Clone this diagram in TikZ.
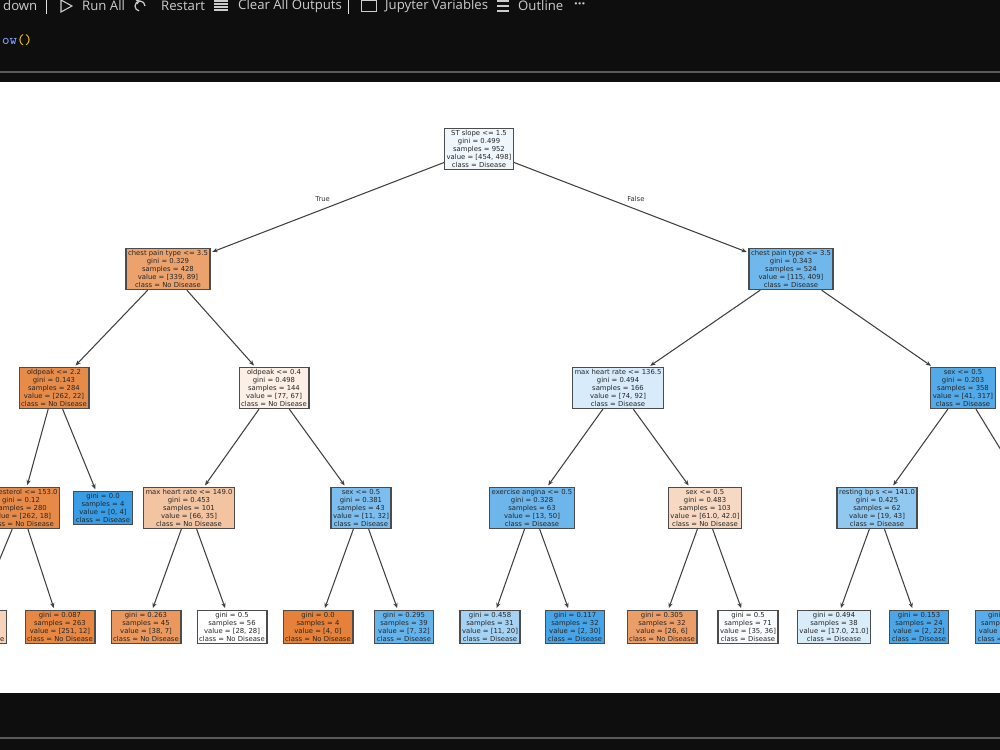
\documentclass[tikz,border=0pt]{standalone}
\usepackage{fontspec}
\setmainfont{DejaVu Sans}
\newfontfamily\uifont{Open Sans}
\usetikzlibrary{arrows.meta}
\definecolor{orng}{RGB}{229,129,57}
\definecolor{blu}{RGB}{57,157,229}
\definecolor{bgd}{RGB}{14,14,14}
\definecolor{uitxt}{RGB}{204,204,204}
\begin{document}
\begin{tikzpicture}[x=0.02cm,y=-0.02cm,
  tn/.style={draw=black!70,line width=0.7pt,align=center,inner sep=1.2pt,font=\fontsize{3.9}{4.5}\selectfont,text=black!85},
  ed/.style={-{Stealth[length=3pt,width=2.4pt]},line width=0.6pt,draw=black!75,shorten >=1pt},
  ui/.style={text=uitxt,font=\uifont\fontsize{7.5}{9}\selectfont,anchor=west}]
\useasboundingbox (0,0) rectangle (1000,750);
\fill[bgd] (0,0) rectangle (1000,750);
\draw[black!65,line width=0.8pt] (0,72) -- (1000,72);
\draw[black!65,line width=0.6pt] (0,738) -- (1000,738);
\fill[white] (0,82) rectangle (1000,693);
% toolbar
\node[ui] (t1) at (-3,6) {down};
\draw[uitxt!60] (46,-2) -- (46,14);
\draw[uitxt,line width=0.6pt] (61,0) -- (72,6) -- (61,12) -- cycle;
\node[ui] (t2) at (76,6) {Run All};
\draw[uitxt,line width=0.7pt] (145,6) arc (0:-260:5);
\draw[uitxt,line width=0.7pt] (136,0) -- (139,1) -- (137,4);
\node[ui] (t3) at (155,6) {Restart};
\foreach \yy in {1,4,7,10} \draw[uitxt,line width=0.6pt] (214,\yy) -- (228,\yy);
\node[ui] (t4) at (232,6) {Clear All Outputs};
\draw[uitxt!60] (348,-2) -- (348,14);
\draw[uitxt,line width=0.5pt] (361,0) rectangle (376,11);
\node[ui] (t5) at (379,6) {Jupyter Variables};
\draw[uitxt,line width=0.6pt] (497,1) -- (509,1) (497,6) -- (509,6) (497,11) -- (509,11);
\node[ui] (t6) at (512,6) {Outline};
\node[ui] (t7) at (568,6) {\textbf{···}};
\node[ui,font=\ttfamily\fontsize{8}{9}\selectfont] (code) at (-4,40) {\textcolor[RGB]{130,160,255}{ow}\textcolor[RGB]{255,215,0}{()}};
\begin{scope}
\clip (0,82) rectangle (1000,693);
\node[tn,fill=blu!8] (r) at (479,149) {ST slope <= 1.5\\gini = 0.499\\samples = 952\\value = [454, 498]\\class = Disease};
\node[tn,fill=orng!74] (a) at (168,269) {chest pain type <= 3.5\\gini = 0.329\\samples = 428\\value = [339, 89]\\class = No Disease};
\node[tn,fill=blu!72] (b) at (791,269) {chest pain type <= 3.5\\gini = 0.343\\samples = 524\\value = [115, 409]\\class = Disease};
\node[tn,fill=orng!92] (aa) at (54,388) {oldpeak <= 2.2\\gini = 0.143\\samples = 284\\value = [262, 22]\\class = No Disease};
\node[tn,fill=orng!13] (ab) at (274,388) {oldpeak <= 0.4\\gini = 0.498\\samples = 144\\value = [77, 67]\\class = No Disease};
\node[tn,fill=blu!20] (ba) at (618,388) {max heart rate <= 136.5\\gini = 0.494\\samples = 166\\value = [74, 92]\\class = Disease};
\node[tn,fill=blu!87] (bb) at (963,388) {sex <= 0.5\\gini = 0.203\\samples = 358\\value = [41, 317]\\class = Disease};
\node[tn,fill=orng!93] (aaa) at (21,508) {cholesterol <= 153.0\\gini = 0.12\\samples = 280\\value = [262, 18]\\class = No Disease};
\node[tn,fill=blu] (aab) at (103,508) {gini = 0.0\\samples = 4\\value = [0, 4]\\class = Disease};
\node[tn,fill=orng!47] (aba) at (189,508) {max heart rate <= 149.0\\gini = 0.453\\samples = 101\\value = [66, 35]\\class = No Disease};
\node[tn,fill=blu!66] (abb) at (361,508) {sex <= 0.5\\gini = 0.381\\samples = 43\\value = [11, 32]\\class = Disease};
\node[tn,fill=blu!74] (baa) at (532,508) {exercise angina <= 0.5\\gini = 0.328\\samples = 63\\value = [13, 50]\\class = Disease};
\node[tn,fill=orng!31] (bab) at (705,508) {sex <= 0.5\\gini = 0.483\\samples = 103\\value = [61.0, 42.0]\\class = No Disease};
\node[tn,fill=blu!56] (bba) at (877,508) {resting bp s <= 141.0\\gini = 0.425\\samples = 62\\value = [19, 43]\\class = Disease};
\coordinate (bbb) at (1012,468);
\node[tn,fill=orng!35,anchor=east] (l0) at (7,627) {gini = 0.4\\samples = 17\\value = [11, 6]\\class = No Disease};
\node[tn,fill=orng!95] (l1) at (60,627) {gini = 0.087\\samples = 263\\value = [251, 12]\\class = No Disease};
\node[tn,fill=orng!82] (l2) at (146,627) {gini = 0.263\\samples = 45\\value = [38, 7]\\class = No Disease};
\node[tn,fill=white] (l3) at (232,627) {gini = 0.5\\samples = 56\\value = [28, 28]\\class = No Disease};
\node[tn,fill=orng] (l4) at (318,627) {gini = 0.0\\samples = 4\\value = [4, 0]\\class = No Disease};
\node[tn,fill=blu!78] (l5) at (404,627) {gini = 0.295\\samples = 39\\value = [7, 32]\\class = Disease};
\node[tn,fill=blu!45] (l6) at (490,627) {gini = 0.458\\samples = 31\\value = [11, 20]\\class = Disease};
\node[tn,fill=blu!93] (l7) at (575,627) {gini = 0.117\\samples = 32\\value = [2, 30]\\class = Disease};
\node[tn,fill=orng!77] (l8) at (662,627) {gini = 0.305\\samples = 32\\value = [26, 6]\\class = No Disease};
\node[tn,fill=blu!3] (l9) at (748,627) {gini = 0.5\\samples = 71\\value = [35, 36]\\class = Disease};
\node[tn,fill=blu!19] (l10) at (834,627) {gini = 0.494\\samples = 38\\value = [17.0, 21.0]\\class = Disease};
\node[tn,fill=blu!91] (l11) at (919,627) {gini = 0.153\\samples = 24\\value = [2, 22]\\class = Disease};
\node[tn,fill=blu!85,anchor=west] (l12) at (975,627) {gini = 0.2\\samples = 40\\value = [4, 36]\\class = Disease};
\draw[ed] (r) -- node[pos=0.52,above=1pt,font=\fontsize{3.9}{4.5}\selectfont,text=black!80] {True} (a);
\draw[ed] (r) -- node[pos=0.52,above=1pt,font=\fontsize{3.9}{4.5}\selectfont,text=black!80] {False} (b);
\draw[ed] (a) -- (aa); \draw[ed] (a) -- (ab);
\draw[ed] (b) -- (ba); \draw[ed] (b) -- (bb);
\draw[ed] (aa) -- (aaa); \draw[ed] (aa) -- (aab);
\draw[ed] (ab) -- (aba); \draw[ed] (ab) -- (abb);
\draw[ed] (ba) -- (baa); \draw[ed] (ba) -- (bab);
\draw[ed] (bb) -- (bba); \draw[ed] (bb) -- (bbb);
\draw[ed] (aaa) -- (l0); \draw[ed] (aaa) -- (l1);
\draw[ed] (aba) -- (l2); \draw[ed] (aba) -- (l3);
\draw[ed] (abb) -- (l4); \draw[ed] (abb) -- (l5);
\draw[ed] (baa) -- (l6); \draw[ed] (baa) -- (l7);
\draw[ed] (bab) -- (l8); \draw[ed] (bab) -- (l9);
\draw[ed] (bba) -- (l10); \draw[ed] (bba) -- (l11);
\end{scope}
\end{tikzpicture}
\end{document}
